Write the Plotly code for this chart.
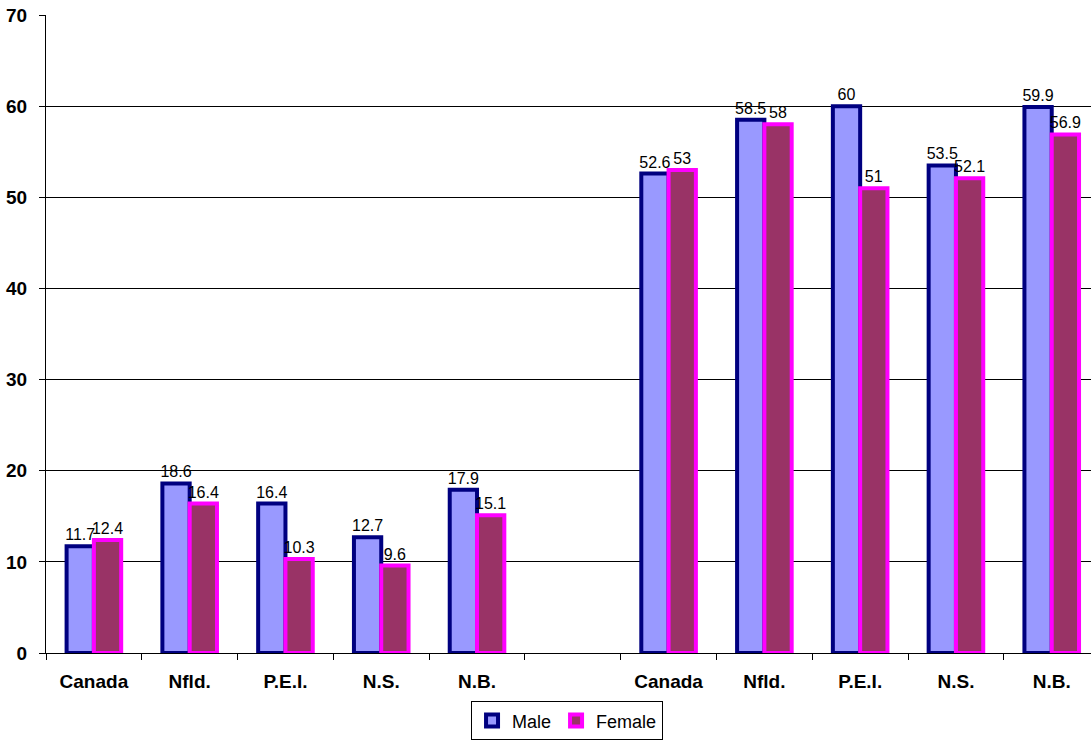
import plotly.graph_objects as go

categories = ["Canada", "Nfld.", "P.E.I.", "N.S.", "N.B.", "", "Canada", "Nfld.", "P.E.I.", "N.S.", "N.B."]
male = [11.7, 18.6, 16.4, 12.7, 17.9, None, 52.6, 58.5, 60, 53.5, 59.9]
female = [12.4, 16.4, 10.3, 9.6, 15.1, None, 53, 58, 51, 52.1, 56.9]
y_ticks = [0, 10, 20, 30, 40, 50, 60, 70]

xpos = list(range(len(categories)))
FONT = "Liberation Sans, Arial, sans-serif"

def labels(vals):
    return ["" if v is None else f"{v:g}" for v in vals]

fig = go.Figure()
fig.add_trace(go.Bar(
    x=xpos, y=male, name="Male",
    marker=dict(color="#9999FF", line=dict(color="#000080", width=4)),
    text=labels(male), textposition="outside", constraintext="none",
    textfont=dict(family=FONT, size=16, color="black"),
    cliponaxis=False,
))
fig.add_trace(go.Bar(
    x=xpos, y=female, name="Female",
    marker=dict(color="#993366", line=dict(color="#FF00FF", width=4)),
    text=labels(female), textposition="outside", constraintext="none",
    textfont=dict(family=FONT, size=16, color="black"),
    cliponaxis=False,
))

fig.update_layout(
    width=1091, height=742,
    margin=dict(l=46, r=0, t=15, b=89, autoexpand=False),
    paper_bgcolor="white", plot_bgcolor="white",
    barmode="group", bargap=0.43, bargroupgap=0,
    font=dict(family=FONT, color="black"),
    legend=dict(
        orientation="h", x=0.4986, xanchor="center", y=-0.137, yanchor="bottom",
        bordercolor="black", borderwidth=1,
        font=dict(size=18, family=FONT),
        itemwidth=30, tracegroupgap=0,
    ),
    showlegend=True,
)
fig.update_xaxes(
    range=[-0.5, 10.41],
    tickvals=xpos, ticktext=categories,
    tickfont=dict(size=19, family=FONT, weight="bold"),
    ticks="outside", ticklen=0, ticklabelstandoff=11,
    minor=dict(tick0=-0.5, dtick=1, ticks="outside", ticklen=6, tickcolor="black", showgrid=False),
    showline=True, linecolor="black", linewidth=1,
    showgrid=False, zeroline=False, fixedrange=True,
)
fig.update_yaxes(
    range=[0, 70], tickvals=y_ticks,
    tickfont=dict(size=19, family=FONT, weight="bold"),
    ticks="outside", ticklen=6, tickcolor="black", ticklabelstandoff=8,
    showline=True, linecolor="black", linewidth=1,
    showgrid=True, gridcolor="black", gridwidth=1,
    zeroline=False,
)

fig.write_html("out.html")
